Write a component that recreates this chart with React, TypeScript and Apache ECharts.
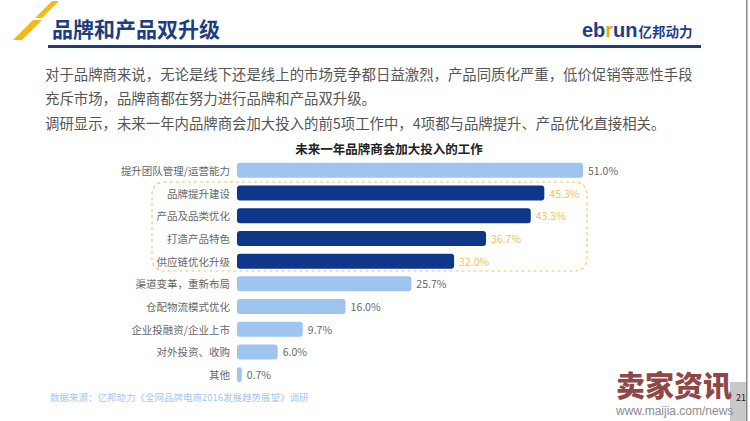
import React, { useEffect, useRef } from "react";
import * as echarts from "echarts";

const categories = [
  "提升团队管理/运营能力",
  "品牌提升建设",
  "产品及品类优化",
  "打造产品特色",
  "供应链优化升级",
  "渠道变革，重新布局",
  "仓配物流模式优化",
  "企业投融资/企业上市",
  "对外投资、收购",
  "其他",
];
const values = [51.0, 45.3, 43.3, 36.7, 32.0, 25.7, 16.0, 9.7, 6.0, 0.7];
const highlighted = [1, 2, 3, 4];

const pageTitle = "品牌和产品双升级";
const chartTitle = "未来一年品牌商会加大投入的工作";
const paragraphLines = [
  "对于品牌商来说，无论是线下还是线上的市场竞争都日益激烈，产品同质化严重，低价促销等恶性手段",
  "充斥市场，品牌商都在努力进行品牌和产品双升级。",
  "调研显示，未来一年内品牌商会加大投入的前5项工作中，4项都与品牌提升、产品优化直接相关。",
];
const sourceText = "数据来源：亿邦动力《全网品牌电商2016发展趋势展望》调研";

const FONT = "'Noto Sans CJK SC', 'Noto Sans', sans-serif";
const NAVY = "#1d3d7f";
const LIGHT = "#9fc4ee";
const DARK = "#0e378a";
const YELLOW = "#f3c24f";

export default function App() {
  const ref = useRef<HTMLDivElement>(null);
  useEffect(() => {
    if (!ref.current) return;
    const chart = echarts.init(ref.current, null, { renderer: "svg" });
    const graphic: any[] = [
      // yellow slashes
      { type: "polygon", shape: { points: [[52, 1], [59, 1], [42, 18], [35, 18]] }, style: { fill: "#f5b917" } },
      { type: "polygon", shape: { points: [[33, 20], [42, 20], [22, 40], [13, 40]] }, style: { fill: "#f5b917" } },
      // title
      { type: "text", x: 52, y: 28, style: { text: pageTitle, font: `bold 21px ${FONT}`, fill: NAVY, verticalAlign: "middle" } },
      { type: "rect", shape: { x: 48, y: 45, width: 653, height: 3 }, style: { fill: NAVY } },
      // logo
      {
        type: "text",
        x: 582,
        y: 30,
        style: {
          text: "{a|eb}{b|r}{a|un}{c|亿邦动力}",
          verticalAlign: "middle",
          rich: {
            a: { font: "bold 20px 'Liberation Sans', Arial, sans-serif", fill: "#1f3d8c" },
            b: { font: "bold 20px 'Liberation Sans', Arial, sans-serif", fill: "#e9a820" },
            c: { font: `bold 13.5px ${FONT}`, fill: "#1f3d8c", padding: [2, 0, 0, 1] },
          },
        },
      },
      // right edge line
      { type: "rect", shape: { x: 746, y: 0, width: 1.5, height: 421 }, style: { fill: "#8a8a8a" } },
      // paragraph
      ...paragraphLines.map((t, i) => ({
        type: "text",
        x: 45,
        y: 73 + i * 24.5,
        style: { text: t, font: `14.4px ${FONT}`, fill: "#555", verticalAlign: "middle" },
      })),
      // chart title
      { type: "text", x: 389, y: 148, style: { text: chartTitle, font: `bold 12.5px ${FONT}`, fill: "#222", align: "center", verticalAlign: "middle" } },
      // dashed highlight box
      {
        type: "rect",
        shape: { x: 152, y: 182, width: 435, height: 89, r: 12 },
        style: { fill: "none", stroke: "#f0c866", lineWidth: 1.2, lineDash: [3, 3] },
        z: 10,
      },
      // source
      { type: "text", x: 50, y: 397, style: { text: sourceText, font: `9.5px ${FONT}`, fill: "#a6c7ee", verticalAlign: "middle" } },
      // watermark
      { type: "rect", shape: { x: 730, y: 382, width: 16, height: 39 }, style: { fill: "#c9c9c9" } },
      { type: "text", x: 616, y: 384, style: { text: "卖家资讯", font: `900 29px ${FONT}`, fill: "#8e4848", verticalAlign: "middle" } },
      { type: "text", x: 736, y: 397, style: { text: "21", font: `9px ${FONT}`, fill: "#222", verticalAlign: "middle" } },
      { type: "text", x: 616, y: 411, style: { text: "www.maijia.com/news", font: "12px 'Liberation Sans', Arial, sans-serif", fill: "#8a8a8a", verticalAlign: "middle" } },
    ];

    chart.setOption({
      animation: false,
      backgroundColor: "#fff",
      grid: { left: 237, width: 346, top: 159, height: 227, containLabel: false },
      xAxis: { type: "value", min: 0, max: 51, show: false },
      yAxis: {
        type: "category",
        inverse: true,
        data: categories,
        axisLine: { show: false },
        axisTick: { show: false },
        axisLabel: { margin: 7, color: "#666", fontSize: 10.5, fontFamily: FONT },
      },
      series: [
        {
          type: "bar",
          barWidth: 15,
          data: values.map((v, i) => {
            const hl = highlighted.includes(i);
            return {
              value: v,
              itemStyle: { color: hl ? DARK : LIGHT, borderRadius: 3 },
              label: { color: hl ? YELLOW : "#666" },
            };
          }),
          label: {
            show: true,
            position: "right",
            distance: 5,
            fontSize: 10.5,
            fontFamily: FONT,
            formatter: (p: any) => p.value.toFixed(1) + "%",
          },
        },
      ],
      graphic,
    });
    return () => chart.dispose();
  }, []);
  return <div ref={ref} style={{ position: "fixed", left: 0, top: 0, width: 750, height: 421 }} />;
}
